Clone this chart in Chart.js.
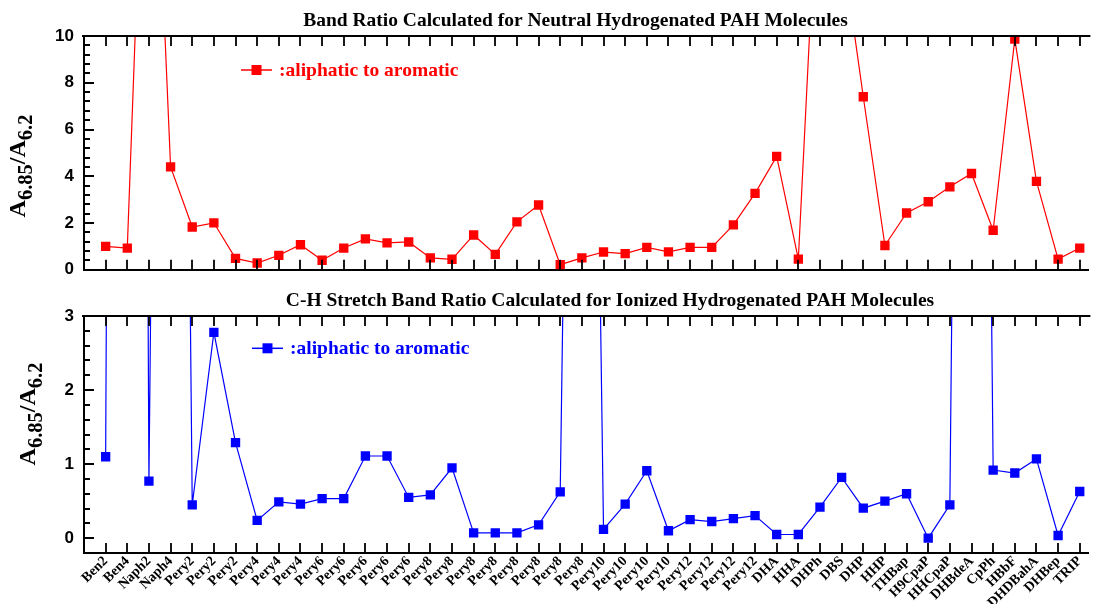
<!DOCTYPE html>
<html><head><meta charset="utf-8">
<script src="https://cdn.jsdelivr.net/npm/chart.js@4.4.0/dist/chart.umd.min.js"></script>
<style>
html,body{margin:0;padding:0;background:#fff;width:1095px;height:604px;overflow:hidden}
#c1{position:absolute;left:0;top:0}
#c2{position:absolute;left:0;top:290px}
</style></head>
<body>
<canvas id="c1" width="1095" height="290"></canvas>
<canvas id="c2" width="1095" height="314"></canvas>
<script>
// ---- data ----
const categories = ['Ben2','Ben4','Naph2','Naph4','Pery2','Pery2','Pery2','Pery4','Pery4','Pery4',
  'Pery6','Pery6','Pery6','Pery6','Pery6','Pery8','Pery8','Pery8','Pery8','Pery8','Pery8','Pery8','Pery8',
  'Pery10','Pery10','Pery10','Pery10','Pery12','Pery12','Pery12','Pery12',
  'DHA','HHA','DHPh','DBS','DHP','HHP','THBap','H9CpaP','HHCpaP','DHBdeA','CpPh','HBbF','DHDBahA','DHBep','TRIP'];
const neutralRatio = [1.00, 0.93, 26, 4.40, 1.83, 2.01, 0.49, 0.29, 0.62, 1.07,
  0.41, 0.93, 1.32, 1.15, 1.19, 0.51, 0.45, 1.49, 0.66, 2.05, 2.77, 0.22, 0.51,
  0.76, 0.69, 0.96, 0.77, 0.96, 0.96, 1.92, 3.27,
  4.85, 0.46, 19, 14, 7.40, 1.04, 2.43, 2.91, 3.55, 4.12, 1.69, 9.87, 3.78, 0.46, 0.93];
const ionizedRatio = [1.10, 60, 0.77, 30, 0.45, 2.78, 1.29, 0.24, 0.49, 0.46,
  0.535, 0.535, 1.11, 1.11, 0.55, 0.585, 0.95, 0.072, 0.072, 0.072, 0.18, 0.625, 21,
  0.12, 0.46, 0.91, 0.10, 0.25, 0.225, 0.265, 0.305,
  0.05, 0.05, 0.42, 0.82, 0.405, 0.50, 0.60, 0.00, 0.45, 30, 0.92, 0.88, 1.07, 0.036, 0.63];
const neutralYLabels = [0, 2, 4, 6, 8, 10];
const ionizedYLabels = [0, 1, 2, 3];
const seriesLabel = ':aliphatic to aromatic';
const neutralTitle = 'Band Ratio Calculated for Neutral Hydrogenated PAH Molecules';
const ionizedTitle = 'C-H Stretch Band Ratio Calculated for Ionized Hydrogenated PAH Molecules';

// ---- decoration plugin (frame ticks, titles, legend, axis title) ----
const decorPlugin = {
  id: 'decor',
  afterDraw(chart, args, o) {
    const ctx = chart.ctx, ca = chart.chartArea, xs = chart.scales.x, ys = chart.scales.y;
    ctx.save();
    ctx.strokeStyle = '#000';
    ctx.lineWidth = 2;
    ctx.beginPath();
    ctx.moveTo(ca.left - 2, ca.top); ctx.lineTo(ca.right + 2, ca.top);
    ctx.stroke();
    ctx.lineWidth = 1.8;
    ctx.beginPath();
    xs.ticks.forEach(t => {
      const px = Math.round(xs.getPixelForValue(t.value));
      ctx.moveTo(px, ca.bottom); ctx.lineTo(px, ca.bottom - 10);
      ctx.moveTo(px, ca.top); ctx.lineTo(px, ca.top + 10);
    });
    ys.ticks.forEach(t => {
      const py = Math.round(ys.getPixelForValue(t.value));
      const len = t.label ? 10 : 6;
      ctx.moveTo(ca.left, py); ctx.lineTo(ca.left + len, py);
    });
    ctx.stroke();

    // title
    ctx.fillStyle = '#000';
    ctx.font = 'bold 19.5px "Liberation Serif"';
    ctx.textAlign = 'center'; ctx.textBaseline = 'alphabetic';
    ctx.fillText(o.title, o.titleX, o.titleY);

    // legend
    const ds = chart.data.datasets[0];
    ctx.strokeStyle = ds.borderColor; ctx.lineWidth = 1.5;
    ctx.beginPath(); ctx.moveTo(o.legX, o.legY); ctx.lineTo(o.legX + 31, o.legY); ctx.stroke();
    ctx.fillStyle = ds.backgroundColor;
    ctx.fillRect(o.legX + 15.5 - 5, o.legY - 5, 10, 10);
    ctx.font = 'bold 19.5px "Liberation Serif"';
    ctx.textAlign = 'left';
    ctx.fillText(ds.label, o.legX + 38, o.legY + 6);

    // y axis title with subscripts
    ctx.translate(o.yTitleX, o.yTitleY);
    ctx.rotate(-Math.PI / 2);
    const main = 'bold 24px "Liberation Serif"', sub = 'bold 20.5px "Liberation Serif"';
    const parts = [['A', main, 0], ['6.85', sub, 7], ['/', main, 0], ['A', main, 0], ['6.2', sub, 7]];
    let total = 0;
    parts.forEach(p => { ctx.font = p[1]; total += ctx.measureText(p[0]).width; });
    let cx = -total / 2;
    ctx.fillStyle = '#000';
    parts.forEach(p => { ctx.font = p[1]; ctx.fillText(p[0], cx, p[2]); cx += ctx.measureText(p[0]).width; });
    ctx.restore();
  }
};

function makeChart(canvasId, values, color, yMin, yMax, yStep, yLabels, showX, padTop, xHeight, decor) {
  const nMinor = Math.round((yMax - yMin) / yStep);
  return new Chart(document.getElementById(canvasId), {
    type: 'line',
    data: {
      datasets: [{
        label: seriesLabel,
        data: values.map((v, i) => ({ x: i, y: v })),
        borderColor: color, backgroundColor: color,
        borderWidth: 1.2, tension: 0,
        pointStyle: 'rect', pointRadius: 6.6, pointHoverRadius: 6.6, pointBorderWidth: 0
      }]
    },
    options: {
      responsive: false, animation: false, events: [],
      layout: { padding: { left: 0, right: 0, top: padTop, bottom: 0 } },
      plugins: { legend: { display: false }, tooltip: { enabled: false }, decor: decor },
      scales: {
        x: {
          type: 'linear', min: -1, max: 45.4,
          afterBuildTicks: s => { s.ticks = categories.map((c, i) => ({ value: i })); },
          grid: { display: false, drawTicks: false },
          border: { display: true, color: '#000', width: 2 },
          ticks: {
            display: showX, autoSkip: false, maxRotation: 45, minRotation: 45, padding: 1,
            color: '#000', font: { family: 'Liberation Serif', weight: 'bold', size: 14, lineHeight: 1.0 },
            callback: v => categories[v]
          },
          afterFit: s => { s.height = xHeight; s.paddingLeft = 0; s.paddingRight = 0; }
        },
        y: {
          min: yMin, max: yMax,
          afterBuildTicks: s => {
            const t = [];
            for (let k = 0; k <= nMinor; k++) t.push({ value: Math.round((yMin + k * yStep) * 1000) / 1000 });
            s.ticks = t;
          },
          grid: { display: false, drawTicks: false },
          border: { display: true, color: '#000', width: 2 },
          ticks: {
            autoSkip: false, padding: 10, color: '#000',
            font: { family: 'Liberation Sans', weight: 'bold', size: 17 },
            callback: v => (yLabels.indexOf(v) >= 0 ? String(v) : '')
          },
          afterFit: s => { s.width = 84; }
        }
      }
    },
    plugins: [decorPlugin]
  });
}

makeChart('c1', neutralRatio, '#ff0000', 0, 10, 0.4, neutralYLabels, false, 36, 16,
  { title: neutralTitle, titleX: 575.5, titleY: 26, legX: 241, legY: 70, yTitleX: 25, yTitleY: 166 });
makeChart('c2', ionizedRatio, '#0000ff', -0.2, 3, 0.2, ionizedYLabels, true, 26, 51,
  { title: ionizedTitle, titleX: 610, titleY: 15.7, legX: 252, legY: 58.3, yTitleX: 35, yTitleY: 124 });
</script>
</body></html>
